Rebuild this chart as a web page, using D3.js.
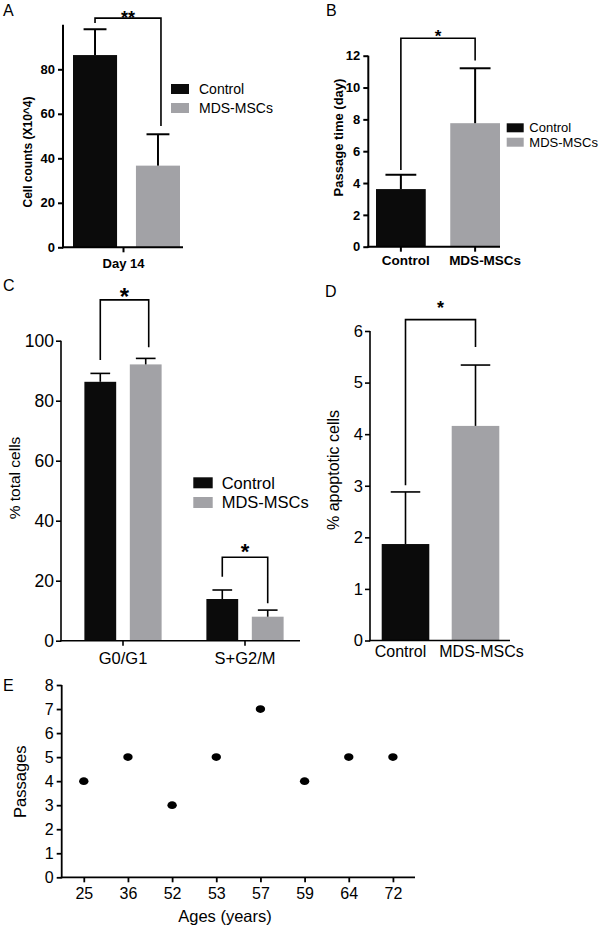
<!DOCTYPE html>
<html><head><meta charset="utf-8">
<script src="https://cdn.jsdelivr.net/npm/d3@7"></script>
<style>body{margin:0;background:#fff}svg{display:block}</style>
</head><body><svg id="c" width="600" height="931"></svg>
<script>
// ---------- data ----------
const groups = ["Control", "MDS-MSCs"];
const groupColors = ["#0b0b0b", "#a2a2a6"];
// Panel A
const aCategory = ["Day 14"];
const aMeans = [86.4, 36.7];
const aErrors = [11.6, 14.1];
const aTicks = [0, 20, 40, 60, 80];
// Panel B
const bMeans = [3.62, 7.76];
const bErrors = [0.9, 3.45];
const bTicks = [0, 2, 4, 6, 8, 10, 12];
// Panel C
const cPhases = ["G0/G1", "S+G2/M"];
const cControl = [86.3, 13.9];
const cControlErr = [2.8, 3.0];
const cMDS = [92.1, 8.0];
const cMDSErr = [2.0, 2.2];
const cTicks = [0, 20, 40, 60, 80, 100];
// Panel D
const dMeans = [1.87, 4.16];
const dErrors = [1.01, 1.18];
const dTicks = [0, 1, 2, 3, 4, 5, 6];
// Panel E
const eAges = ["25", "36", "52", "53", "57", "59", "64", "72"];
const ePassages = [4, 5, 3, 5, 7, 4, 5, 5];
const eTicks = [0, 1, 2, 3, 4, 5, 6, 7, 8];

// ---------- helpers ----------
const FONT = '"Liberation Sans", Arial, Helvetica, sans-serif';
const svg = d3.select("#c");
svg.append("rect").attr("width", 600).attr("height", 931).attr("fill", "#fff");

function styleAxis(g, fs, bold, sw) {
  g.attr("font-family", FONT).attr("font-size", fs);
  g.selectAll(".domain").remove();
  g.selectAll(".tick line").attr("stroke", "#000").attr("stroke-width", sw);
  g.selectAll(".tick text").attr("fill", "#000").attr("font-weight", bold ? "bold" : "normal");
}
function yAxis(g, y, x0, ticks, fs, bold, sw, pad) {
  const ax = g.append("g").attr("transform", `translate(${x0},0)`)
    .call(d3.axisLeft(y).tickValues(ticks).tickSize(5).tickPadding(pad).tickFormat(d3.format("d")));
  styleAxis(ax, fs, bold, sw);
  g.append("line").attr("x1", x0).attr("x2", x0).attr("y1", y.range()[0] + sw / 2).attr("y2", y.range()[1])
    .attr("stroke", "#000").attr("stroke-width", sw);
}
function xAxis(g, x, y0, xStart, xEnd, fs, bold, sw, tickSize, pad, dxs) {
  const ax = g.append("g").attr("transform", `translate(0,${y0})`)
    .call(d3.axisBottom(x).tickSize(tickSize).tickPadding(pad));
  styleAxis(ax, fs, bold, sw);
  if (dxs) ax.selectAll(".tick text").attr("dx", (d, i) => dxs[i]);
  g.append("line").attr("x1", xStart - sw / 2).attr("x2", xEnd).attr("y1", y0).attr("y2", y0)
    .attr("stroke", "#000").attr("stroke-width", sw);
}
function drawBars(g, data, xPos, bw, y, capFrac, sw) {
  g.selectAll(null).data(data).join("rect")
    .attr("x", d => xPos(d)).attr("y", d => y(d.mean))
    .attr("width", bw).attr("height", d => y(0) - y(d.mean))
    .attr("fill", d => d.color);
  g.selectAll(null).data(data).join("line")
    .attr("x1", d => xPos(d) + bw / 2).attr("x2", d => xPos(d) + bw / 2)
    .attr("y1", d => y(d.mean)).attr("y2", d => y(d.mean + d.err))
    .attr("stroke", "#000").attr("stroke-width", sw);
  g.selectAll(null).data(data).join("line")
    .attr("x1", d => xPos(d) + bw / 2 - bw * capFrac / 2).attr("x2", d => xPos(d) + bw / 2 + bw * capFrac / 2)
    .attr("y1", d => y(d.mean + d.err)).attr("y2", d => y(d.mean + d.err))
    .attr("stroke", "#000").attr("stroke-width", sw);
}
function bracket(g, xL, xR, yL, yT, yR, label, fs, starCY, sw) {
  g.append("path").attr("d", `M${xL},${yL}V${yT}H${xR}V${yR}`)
    .attr("fill", "none").attr("stroke", "#000").attr("stroke-width", sw);
  g.append("text").attr("x", (xL + xR) / 2).attr("y", starCY + 0.57 * fs)
    .attr("text-anchor", "middle").attr("font-family", FONT).attr("font-weight", "bold")
    .attr("font-size", fs).text(label);
}
function yLabel(g, cx, cy, txt, fs, bold) {
  g.append("text").attr("transform", `translate(${cx},${cy}) rotate(-90)`).attr("dy", "0.35em")
    .attr("text-anchor", "middle").attr("font-family", FONT).attr("font-size", fs)
    .attr("font-weight", bold ? "bold" : "normal").text(txt);
}
function plainText(g, x, y, txt, fs, anchor, bold) {
  g.append("text").attr("x", x).attr("y", y).attr("text-anchor", anchor || "start")
    .attr("font-family", FONT).attr("font-size", fs).attr("font-weight", bold ? "bold" : "normal").text(txt);
}
function legend(g, x, ys, rw, rh, tx, fs) {
  groups.forEach((k, i) => {
    g.append("rect").attr("x", x).attr("y", ys[i]).attr("width", rw).attr("height", rh).attr("fill", groupColors[i]);
    plainText(g, tx, ys[i] + rh / 2 + 0.36 * fs, k, fs);
  });
}

// ---------- Panel A ----------
{
  const g = svg.append("g");
  const x = d3.scaleBand(groups, [73, 180]).paddingInner(0.3);
  const y = d3.scaleLinear([0, 100], [247.3, 24.8]);
  const data = groups.map((k, i) => ({ key: k, mean: aMeans[i], err: aErrors[i], color: groupColors[i] }));
  drawBars(g, data, d => x(d.key), x.bandwidth(), y, 0.52, 2);
  yAxis(g, y, 63, aTicks, 13, true, 2, 3);
  const xc = d3.scaleBand(aCategory, [63, 184]);
  xAxis(g, xc, 247.3, 63, 183, 13, true, 2, 5, 6);
  yLabel(g, 28, 152, "Cell counts (X10^4)", 12, true);
  legend(g, 171, [84, 103], 18, 10, 199, 14);
  const cx = k => x(k) + x.bandwidth() / 2;
  bracket(g, cx("Control"), cx("MDS-MSCs") + 3, y(100.8), y(103), y(54.5), "**", 18, 13.5, 1.6);
  plainText(g, 3, 15.5, "A", 16);
}
// ---------- Panel B ----------
{
  const g = svg.append("g");
  const x = d3.scaleBand(groups, [376, 500]).paddingInner(0.33);
  const y = d3.scaleLinear([0, 12], [246.7, 55.7]);
  const data = groups.map((k, i) => ({ key: k, mean: bMeans[i], err: bErrors[i], color: groupColors[i] }));
  drawBars(g, data, d => x(d.key), x.bandwidth(), y, 0.62, 2);
  yAxis(g, y, 368.3, bTicks, 13, true, 2, 3);
  xAxis(g, x, 246.7, 368.3, 500, 13.5, true, 2, 5, 4, [5, 10]);
  yLabel(g, 338, 137.5, "Passage time (day)", 13, true);
  legend(g, 506.7, [123.3, 137.7], 17, 9, 529.3, 13);
  const cx = k => x(k) + x.bandwidth() / 2;
  bracket(g, cx("Control"), cx("MDS-MSCs"), y(4.82), y(13.1), y(11.7), "*", 17, 32, 1.6);
  plainText(g, 326, 15.5, "B", 16);
}
// ---------- Panel C ----------
{
  const g = svg.append("g");
  const x0 = d3.scaleBand(cPhases, [62, 306]).paddingInner(0.3).paddingOuter(0.15);
  const x1 = d3.scaleBand(groups, [0, x0.bandwidth()]).paddingInner(0.3).paddingOuter(0.09);
  const y = d3.scaleLinear([0, 100], [640.7, 340.7]);
  const data = [];
  cPhases.forEach((p, j) => {
    data.push({ phase: p, key: "Control", mean: cControl[j], err: cControlErr[j], color: groupColors[0] });
    data.push({ phase: p, key: "MDS-MSCs", mean: cMDS[j], err: cMDSErr[j], color: groupColors[1] });
  });
  drawBars(g, data, d => x0(d.phase) + x1(d.key), x1.bandwidth(), y, 0.62, 1.6);
  yAxis(g, y, 61, cTicks, 17.5, false, 1.6, 2);
  xAxis(g, x0, 640.7, 61, 300, 16.5, false, 1.6, 5, 6.5);
  yLabel(g, 15, 478, "% total cells", 15.5, false);
  legend(g, 193.3, [477.3, 497], 19.4, 11, 221.7, 16.5);
  const cx = (p, k) => x0(p) + x1(k) + x1.bandwidth() / 2;
  bracket(g, cx("G0/G1", "Control"), cx("G0/G1", "MDS-MSCs") + 3, y(93.6), y(113.6), y(97.8), "*", 24, 291.7, 1.6);
  bracket(g, cx("S+G2/M", "Control"), cx("S+G2/M", "MDS-MSCs"), y(21.3), y(27.8), y(12.5), "*", 22, 546.7, 1.6);
  plainText(g, 3, 290.5, "C", 16);
}
// ---------- Panel D ----------
{
  const g = svg.append("g");
  const x = d3.scaleBand(groups, [381.7, 499.3]).paddingInner(0.32);
  const xl = d3.scaleBand(groups, [360, 522]);
  const y = d3.scaleLinear([0, 6], [640.5, 331]);
  const data = groups.map((k, i) => ({ key: k, mean: dMeans[i], err: dErrors[i], color: groupColors[i] }));
  drawBars(g, data, d => x(d.key), x.bandwidth(), y, 0.62, 1.6);
  yAxis(g, y, 370, dTicks, 16.5, false, 1.6, 2);
  xAxis(g, xl, 640.5, 370, 510, 16, false, 1.6, 0, 5);
  yLabel(g, 333, 470, "% apoptotic cells", 16, false);
  const cx = k => x(k) + x.bandwidth() / 2;
  bracket(g, cx("Control"), cx("MDS-MSCs"), y(3.01), y(6.22), y(5.69), "*", 18, 303.3, 1.6);
  plainText(g, 325, 297, "D", 16);
}
// ---------- Panel E ----------
{
  const g = svg.append("g");
  const x = d3.scalePoint(eAges, [61.7, 415]).padding(0.5);
  const y = d3.scaleLinear([0, 8], [877.3, 685]);
  yAxis(g, y, 61.7, eTicks, 16, false, 1.8, 3);
  xAxis(g, x, 877.3, 61.7, 415, 16, false, 1.8, 5, 5);
  g.selectAll(null).data(eAges.map((a, i) => ({ age: a, p: ePassages[i] }))).join("ellipse")
    .attr("cx", d => x(d.age)).attr("cy", d => y(d.p)).attr("rx", 4.7).attr("ry", 3.9).attr("fill", "#000");
  yLabel(g, 20, 781.7, "Passages", 16.5, false);
  plainText(g, 225, 922.4, "Ages (years)", 16.5, "middle");
  plainText(g, 3, 691, "E", 16);
}
</script></body></html>
